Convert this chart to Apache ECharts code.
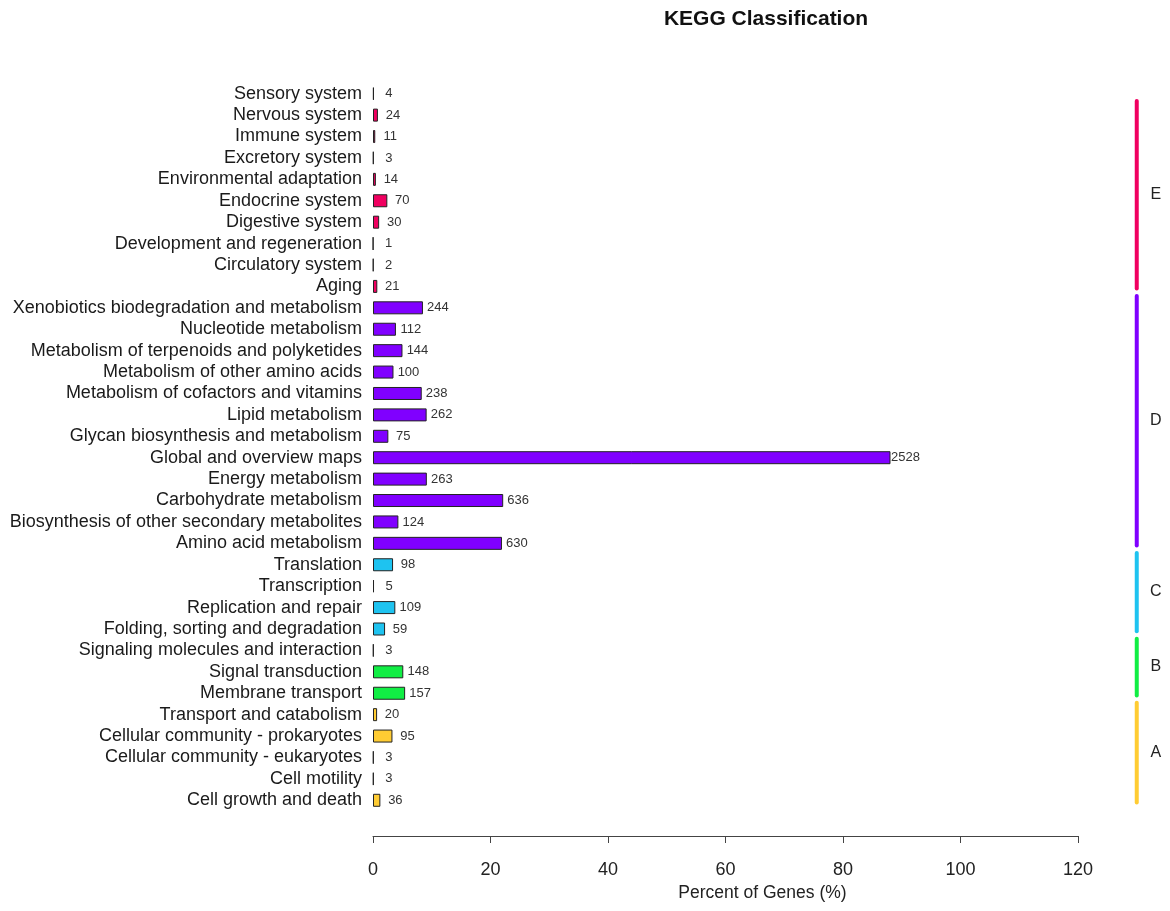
<!DOCTYPE html>
<html>
<head>
<meta charset="utf-8">
<script src="https://cdn.jsdelivr.net/npm/echarts@6/dist/echarts.min.js"></script>
<style>html,body{margin:0;padding:0;background:#fff;}#c{width:1170px;height:911px;}</style>
</head>
<body>
<div id="c"></div>
<script>
// Categories listed bottom to top
var categories = [
  'Cell growth and death','Cell motility','Cellular community - eukaryotes','Cellular community - prokaryotes','Transport and catabolism',
  'Membrane transport','Signal transduction','Signaling molecules and interaction',
  'Folding, sorting and degradation','Replication and repair','Transcription','Translation',
  'Amino acid metabolism','Biosynthesis of other secondary metabolites','Carbohydrate metabolism','Energy metabolism','Global and overview maps','Glycan biosynthesis and metabolism','Lipid metabolism','Metabolism of cofactors and vitamins','Metabolism of other amino acids','Metabolism of terpenoids and polyketides','Nucleotide metabolism','Xenobiotics biodegradation and metabolism',
  'Aging','Circulatory system','Development and regeneration','Digestive system','Endocrine system','Environmental adaptation','Excretory system','Immune system','Nervous system','Sensory system'
];
var counts = [
  36,3,3,95,20,
  157,148,3,
  59,109,5,98,
  630,124,636,263,2528,75,262,238,100,144,112,244,
  21,2,1,30,70,14,3,11,24,4
];
var groupOf = [
  'A','A','A','A','A',
  'B','B','B',
  'C','C','C','C',
  'D','D','D','D','D','D','D','D','D','D','D','D',
  'E','E','E','E','E','E','E','E','E','E'
];
var totalGenes = 2870; // estimated total used for percentages
var groupLetters = ['A','B','C','D','E'];
var groupColors = {A:'#FFCC33', B:'#11EE44', C:'#1EC3F0', D:'#8000FF', E:'#F00060'};
var xTicks = [0,20,40,60,80,100,120];

var barData = counts.map(function(c,i){
  return {value: c/totalGenes*100, count: c, itemStyle:{color: groupColors[groupOf[i]]}};
});
var groupSpans = groupLetters.map(function(g){
  var s = groupOf.indexOf(g), e = groupOf.lastIndexOf(g);
  return [s, e, g];
});

var chart = echarts.init(document.getElementById('c'));
chart.setOption({
  animation:false,
  backgroundColor:'#fff',
  title:{text:'KEGG Classification', left:761, top:4, textAlign:'center',
    textStyle:{fontFamily:'Liberation Sans', fontSize:21, fontWeight:'bold', color:'#111'}},
  grid:{left:373, right:92, top:83, bottom:100},
  xAxis:{type:'value', min:xTicks[0], max:xTicks[xTicks.length-1], interval:20, offset:25,
    axisLine:{show:true, lineStyle:{color:'#444', width:1}},
    axisTick:{show:true, length:7, lineStyle:{color:'#444'}},
    axisLabel:{fontFamily:'Liberation Sans', fontSize:18, color:'#222', margin:25},
    splitLine:{show:false},
    name:'Percent of Genes (%)', nameLocation:'middle', nameGap:41,
    nameTextStyle:{fontFamily:'Liberation Sans', fontSize:17.5, color:'#222', padding:[0,0,0,74]}},
  yAxis:{type:'category', data:categories,
    axisLine:{show:false}, axisTick:{show:false},
    axisLabel:{interval:0, fontFamily:'Liberation Sans', fontSize:18, color:'#1a1a1a', margin:11}},
  series:[
    {type:'bar', data:barData, barWidth:13,
      itemStyle:{borderColor:'#222', borderWidth:1},
      label:{show:true, position:'right', distance:15, align:'center', fontFamily:'Liberation Sans', fontSize:13, color:'#333',
        formatter:function(p){return p.data.count;}}},
    {type:'custom', data:groupSpans, clip:false,
      renderItem:function(params, api){
        var s = api.value(0), e = api.value(1), g = groupSpans[params.dataIndex][2];
        var band = api.size([0,1])[1];
        var pBottom = api.coord([130, s]);
        var pTop = api.coord([130, e]);
        var y1 = Math.max(pTop[1] - band*0.55, params.coordSys.y + 18);
        var y2 = pBottom[1] + band*0.1;
        return {type:'group', children:[
          {type:'line', shape:{x1:pTop[0], y1:y1, x2:pTop[0], y2:y2},
            style:{stroke:groupColors[g], lineWidth:4, lineCap:'round'}},
          {type:'text', x:pTop[0]+19, y:(y1+y2)/2,
            style:{text:g, fontFamily:'Liberation Sans', fontSize:16, fill:'#222', textAlign:'center', textVerticalAlign:'middle'}}
        ]};
      }}
  ]
});
</script>
</body>
</html>
